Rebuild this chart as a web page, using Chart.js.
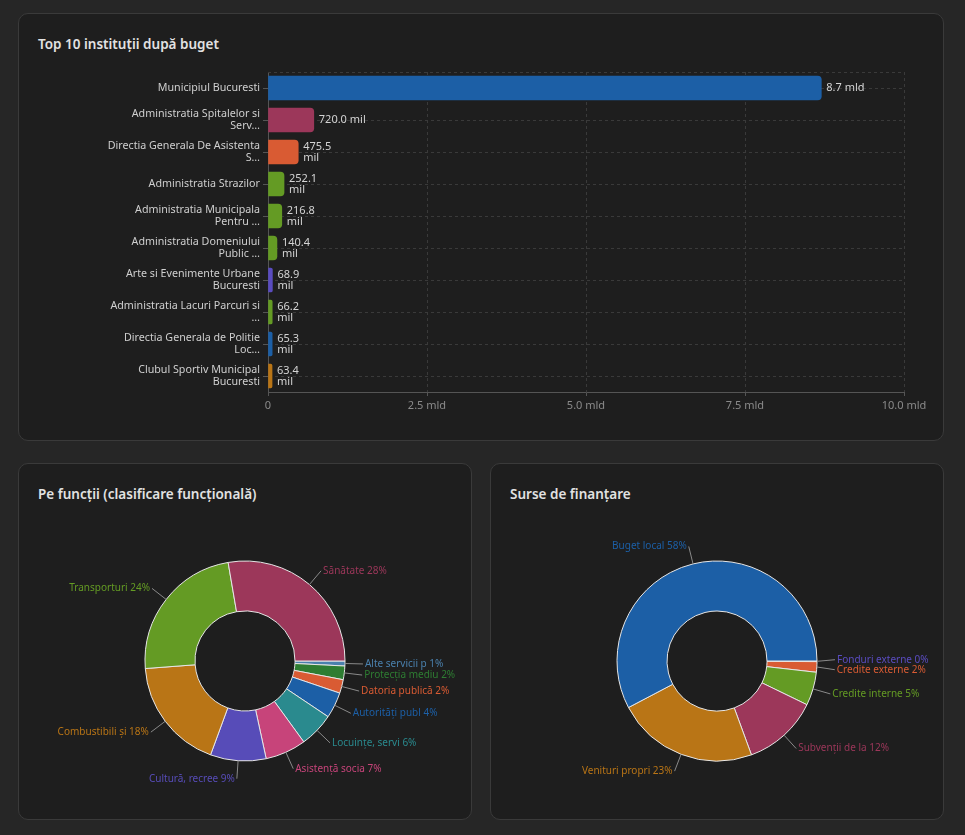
<!DOCTYPE html>
<html>
<head>
<meta charset="utf-8">
<script src="https://cdn.jsdelivr.net/npm/chart.js@4/dist/chart.umd.min.js"></script>
<style>
    body { margin: 0; background: #262626; font-family: "Noto Sans", sans-serif; width: 965px; height: 835px; overflow: hidden; }
    .card { position: absolute; background: #1e1e1e; border: 1px solid #3a3a3a; border-radius: 10px; box-sizing: border-box; }
    .card h3 { position: absolute; margin: 0; left: 19px; top: 21px; font-size: 13.5px; font-weight: 600; color: #e2e2e2; }
    .chart-box { position: absolute; }
</style>
</head>
<body>
<div class="card" style="left:18px; top:13px; width:926px; height:428px;">
    <h3>Top 10 instituții după buget</h3>
    <div class="chart-box" style="left:9px; top:49px; width:906px; height:370px;"><canvas id="top-chart"></canvas></div>
</div>
<div class="card" style="left:18px; top:463px; width:454px; height:357px;">
    <h3>Pe funcții (clasificare funcțională)</h3>
    <div class="chart-box" style="left:-1px; top:59px; width:454px; height:276px;"><canvas id="func-chart"></canvas></div>
</div>
<div class="card" style="left:490px; top:463px; width:454px; height:357px;">
    <h3>Surse de finanțare</h3>
    <div class="chart-box" style="left:-1px; top:59px; width:454px; height:276px;"><canvas id="source-chart"></canvas></div>
</div>

<script>
// Top 10 institutions (values in mil lei)
const institutions = [
    'Municipiul Bucuresti',
    'Administratia Spitalelor si\nServ…',
    'Directia Generala De Asistenta\nS…',
    'Administratia Strazilor',
    'Administratia Municipala\nPentru …',
    'Administratia Domeniului\nPublic …',
    'Arte si Evenimente Urbane\nBucuresti',
    'Administratia Lacuri Parcuri si\n…',
    'Directia Generala de Politie\nLoc…',
    'Clubul Sportiv Municipal\nBucuresti'
];
const budgetValues = [8700, 720.0, 475.5, 252.1, 216.8, 140.4, 68.9, 66.2, 65.3, 63.4];
const barColors = ['#1c5fa6', '#9c375a', '#d95b33', '#649b24', '#649b24', '#649b24', '#5a4cc0', '#649b24', '#1c5fa6', '#b97516'];
const xTickValues = [0, 2500, 5000, 7500, 10000];
const xTickLabels = ['0', '2.5 mld', '5.0 mld', '7.5 mld', '10.0 mld'];

// Functional classification (share of total, %), ascending
const funcLabels = ['Alte servicii p', 'Protecția mediu', 'Datoria publică', 'Autorități publ', 'Locuințe, servi', 'Asistență socia', 'Cultură, recree', 'Combustibili și', 'Transporturi', 'Sănătate'];
const funcValues = [0.8, 2.2, 2.2, 4.2, 5.6, 6.6, 9.0, 18.2, 23.5, 27.7];
const funcColors = ['#4a80ad', '#2e7d32', '#d95b33', '#1c5fa6', '#2a8a8e', '#c7447a', '#574cb8', '#b97516', '#649b24', '#9c375a'];

// Funding sources (share of total, %), ascending
const sourceLabels = ['Fonduri externe', 'Credite externe', 'Credite interne', 'Subvenții de la', 'Venituri propri', 'Buget local'];
const sourceValues = [0.1, 1.7, 5.4, 12.2, 22.9, 57.7];
const sourceColors = ['#5a4cc0', '#d95b33', '#649b24', '#9c375a', '#b97516', '#1c5fa6'];

const FONT = '"Noto Sans", sans-serif';
Chart.defaults.font.family = FONT;
Chart.defaults.animation = false;

// Format a budget value (mil) into label lines
function valueLabel(v) {
    if (v >= 1000) return [(v / 1000).toFixed(1) + ' mld'];
    if (v >= 500) return [v.toFixed(1) + ' mil'];
    return [v.toFixed(1), 'mil'];
}

// Value text to the right of each bar
const barValueLabels = {
    id: 'barValueLabels',
    afterDatasetsDraw(chart) {
        const ctx = chart.ctx;
        const meta = chart.getDatasetMeta(0);
        ctx.save();
        ctx.font = '11px ' + FONT;
        ctx.fillStyle = '#d4d4d4';
        ctx.textAlign = 'left';
        ctx.textBaseline = 'middle';
        meta.data.forEach((bar, i) => {
            const lines = valueLabel(budgetValues[i]);
            lines.forEach((t, k) => {
                ctx.fillText(t, bar.x + 5, bar.y + (k - (lines.length - 1) / 2) * 11);
            });
        });
        ctx.restore();
    }
};

// Dashed line along the top of the plot
const plotTopLine = {
    id: 'plotTopLine',
    beforeDatasetsDraw(chart) {
        const { ctx, chartArea } = chart;
        ctx.save();
        ctx.strokeStyle = '#3a3a3a';
        ctx.setLineDash([3, 3]);
        ctx.beginPath();
        ctx.moveTo(chartArea.left, chartArea.top + 0.5);
        ctx.lineTo(chartArea.right, chartArea.top + 0.5);
        ctx.stroke();
        ctx.restore();
    }
};

// Outside labels with leader lines for doughnuts
const pieLabels = {
    id: 'pieLabels',
    afterDatasetsDraw(chart) {
        const ctx = chart.ctx;
        const ds = chart.data.datasets[0];
        const total = ds.data.reduce((a, b) => a + b, 0);
        const meta = chart.getDatasetMeta(0);
        const items = meta.data.map((arc, i) => {
            const p = arc.getProps(['x', 'y', 'startAngle', 'endAngle', 'outerRadius']);
            const mid = (p.startAngle + p.endAngle) / 2;
            const c = Math.cos(mid), s = Math.sin(mid);
            return {
                x0: p.x + c * p.outerRadius,
                y0: p.y + s * p.outerRadius,
                x1: p.x + c * (p.outerRadius + 18),
                y1: p.y + s * (p.outerRadius + 18),
                right: c >= 0,
                text: chart.data.labels[i] + ' ' + Math.round(ds.data[i] / total * 100) + '%',
                color: ds.backgroundColor[i]
            };
        });
        const gap = 10;
        [true, false].forEach(side => {
            const list = items.filter(it => it.right === side).sort((a, b) => a.y1 - b.y1);
            for (let n = 0; n < 30; n++) {
                for (let j = 1; j < list.length; j++) {
                    const diff = list[j].y1 - list[j - 1].y1;
                    if (diff < gap) {
                        const d = (gap - diff) / 2;
                        list[j - 1].y1 -= d;
                        list[j].y1 += d;
                    }
                }
            }
        });
        ctx.save();
        ctx.font = '10px ' + FONT;
        ctx.textBaseline = 'middle';
        items.forEach(it => {
            ctx.strokeStyle = '#8a8a8a';
            ctx.lineWidth = 1;
            ctx.beginPath();
            ctx.moveTo(it.x0, it.y0);
            ctx.lineTo(it.x1, it.y1);
            ctx.stroke();
            ctx.fillStyle = it.color;
            ctx.textAlign = it.right ? 'left' : 'right';
            ctx.fillText(it.text, it.x1 + (it.right ? 2 : -2), it.y1);
        });
        ctx.restore();
    }
};

// Top 10 bar chart
new Chart(document.getElementById('top-chart'), {
    type: 'bar',
    data: {
        labels: institutions.map(c => c.split('\n')),
        datasets: [{
            data: budgetValues,
            backgroundColor: barColors,
            borderRadius: 4,
            borderSkipped: 'start',
            barThickness: 24
        }]
    },
    options: {
        indexAxis: 'y',
        responsive: true,
        maintainAspectRatio: false,
        layout: { padding: { top: 9, right: 30, bottom: 11, left: 0 } },
        plugins: { legend: { display: false }, tooltip: { enabled: false } },
        scales: {
            x: {
                min: 0,
                max: 10000,
                afterBuildTicks: scale => { scale.ticks = xTickValues.map(v => ({ value: v })); },
                afterFit: scale => { scale.height = 30; },
                ticks: {
                    color: '#8a8a8a',
                    font: { size: 11 },
                    padding: 3,
                    maxRotation: 0,
                    callback: (v, i) => xTickLabels[i]
                },
                grid: { color: '#3a3a3a', tickLength: 4, tickColor: '#555', tickBorderDash: [] },
                border: { color: '#555', dash: [3, 3] }
            },
            y: {
                afterFit: scale => {
                    scale.width = 240;
                    scale.paddingTop = 0;
                    scale.paddingBottom = 0;
                },
                ticks: {
                    color: '#cfcfcf',
                    font: { size: 10.7, lineHeight: 1.05 },
                    padding: 3,
                    autoSkip: false
                },
                grid: { offset: false, color: '#3a3a3a', tickLength: 5, tickColor: '#555', tickBorderDash: [] },
                border: { color: '#555', dash: [3, 3] }
            }
        }
    },
    plugins: [plotTopLine, barValueLabels]
});

// Doughnut options shared by both bottom charts
function doughnutConfig(labels, values, colors) {
    return {
        type: 'doughnut',
        data: {
            labels: labels,
            datasets: [{
                data: values,
                backgroundColor: colors,
                borderColor: '#e6e6e6',
                borderWidth: 1,
                radius: 100,
                cutout: '50%'
            }]
        },
        options: {
            responsive: true,
            maintainAspectRatio: false,
            rotation: 90,
            layout: { padding: 0 },
            plugins: { legend: { display: false }, tooltip: { enabled: false } }
        },
        plugins: [pieLabels]
    };
}

new Chart(document.getElementById('func-chart'), doughnutConfig(funcLabels, funcValues, funcColors));
new Chart(document.getElementById('source-chart'), doughnutConfig(sourceLabels, sourceValues, sourceColors));
</script>
</body>
</html>
